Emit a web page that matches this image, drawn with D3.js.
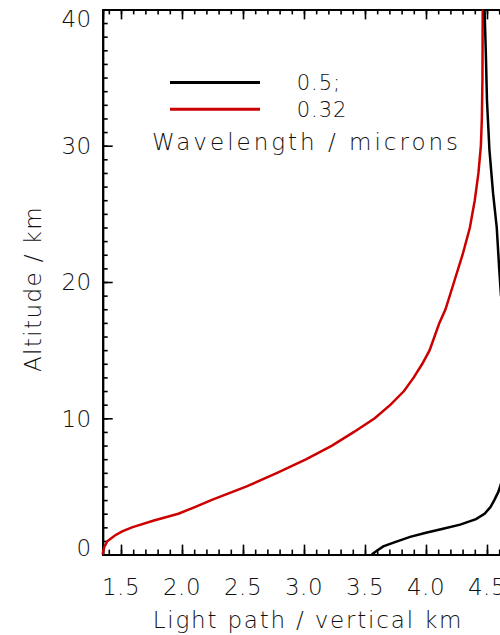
<!DOCTYPE html>
<html>
<head>
<meta charset="utf-8">
<script src="https://cdn.jsdelivr.net/npm/d3@7"></script>
<style>
  html, body { margin: 0; padding: 0; background: #fff; }
  svg { display: block; }
  text { font-family: "DejaVu Sans", sans-serif; font-weight: 200; fill: #111; }
</style>
</head>
<body>
<script>
// altitude (km) vs light path / vertical km
const altRed = [0, 0.3, 0.6, 1.0, 1.4, 1.7, 2.0, 2.5, 3.0, 3.5, 4.0, 5.0, 6.0, 7.0, 8.0, 9.0, 10.0,
    11.0, 12.0, 13.0, 14.0, 15.0, 16.0, 17.0, 18.0, 20.0, 22.0, 24.0, 26.0, 28.0, 30.0, 32.0, 35.0, 40.0];
const pathRed = [1.35, 1.355, 1.365, 1.39, 1.45, 1.51, 1.59, 1.77, 1.97, 2.11, 2.24, 2.53, 2.78, 3.02, 3.23, 3.41, 3.58,
    3.71, 3.82, 3.90, 3.97, 4.03, 4.07, 4.11, 4.16, 4.23, 4.30, 4.36, 4.40, 4.43, 4.45, 4.458, 4.463, 4.465];

const altBlack = [0, 0.3, 0.6, 0.9, 1.3, 1.6, 1.9, 2.2, 2.6, 3.0, 3.5, 4.0, 4.6, 5.2, 6.0, 8.0, 10.0,
    12.0, 15.0, 18.0, 19.0, 21.0, 24.0, 26.5, 29.7, 33.3, 37.0, 40.0];
const pathBlack = [3.555, 3.60, 3.65, 3.74, 3.87, 4.00, 4.14, 4.28, 4.41, 4.48, 4.53, 4.56, 4.593, 4.615, 4.66, 4.74, 4.76,
    4.75, 4.71, 4.66, 4.615, 4.60, 4.58, 4.55, 4.52, 4.50, 4.49, 4.48];

const legendLabels = ["0.5;", "0.32"];
const legendColors = ["#000", "#cc0000"];
const legendTitle = "Wavelength / microns";

const xTicks = [1.5, 2.0, 2.5, 3.0, 3.5, 4.0, 4.5];
const yTicks = [0, 10, 20, 30, 40];

function main() {
    const width = 500;
    const height = 635;
    const margin = { left: 102.7, top: 9.4, bottom: 554.6, right: 512.6 };

    const x = d3.scaleLinear().domain([1.35, 4.71]).range([margin.left, margin.right]);
    const y = d3.scaleLinear().domain([0, 40]).range([margin.bottom, margin.top]);

    const svg = d3.select("body").append("svg")
        .attr("width", width)
        .attr("height", height);

    const minorX = d3.range(14, 48).map(d => d / 10);
    const minorY = d3.range(0, 41);

    // frame + ticks, pointing inward on all sides
    svg.append("g").attr("transform", `translate(0,${margin.bottom})`)
        .call(d3.axisTop(x).tickValues(minorX).tickSize(5).tickFormat(""));
    svg.append("g").attr("transform", `translate(0,${margin.bottom})`)
        .call(d3.axisTop(x).tickValues(xTicks).tickSize(10).tickFormat(""));
    svg.append("g").attr("transform", `translate(0,${margin.top})`)
        .call(d3.axisBottom(x).tickValues(minorX).tickSize(5).tickFormat(""));
    svg.append("g").attr("transform", `translate(0,${margin.top})`)
        .call(d3.axisBottom(x).tickValues(xTicks).tickSize(10).tickFormat(""));
    svg.append("g").attr("transform", `translate(${margin.left},0)`)
        .call(d3.axisRight(y).tickValues(minorY).tickSize(5).tickFormat(""));
    svg.append("g").attr("transform", `translate(${margin.left},0)`)
        .call(d3.axisRight(y).tickValues(yTicks).tickSize(10).tickFormat(""));
    svg.append("g").attr("transform", `translate(${margin.right},0)`)
        .call(d3.axisLeft(y).tickValues(minorY).tickSize(5).tickFormat(""));

    svg.selectAll(".domain").attr("stroke", "#000").attr("stroke-width", 2);
    svg.selectAll(".tick line").attr("stroke", "#000").attr("stroke-width", 1.6);

    // tick labels
    svg.append("g").selectAll("text")
        .data(xTicks)
        .join("text")
        .attr("x", d => x(d))
        .attr("y", margin.bottom + 40)
        .attr("text-anchor", "middle")
        .style("font-size", "23px")
        .style("letter-spacing", "0.5px")
        .text(d => d.toFixed(1));

    svg.append("g").selectAll("text")
        .data(yTicks)
        .join("text")
        .attr("x", margin.left - 11)
        .attr("y", d => Math.min(Math.max(y(d), margin.top + 9), margin.bottom - 7))
        .attr("dy", "0.36em")
        .attr("text-anchor", "end")
        .style("font-size", "23px")
        .style("letter-spacing", "0.5px")
        .text(d => d);

    // axis titles
    svg.append("text")
        .attr("x", 308)
        .attr("y", 628)
        .attr("text-anchor", "middle")
        .style("font-size", "23px")
        .style("letter-spacing", "1.8px")
        .text("Light path / vertical km");

    svg.append("text")
        .attr("transform", `translate(41,${(margin.top + margin.bottom) / 2 + 7}) rotate(-90)`)
        .attr("text-anchor", "middle")
        .style("font-size", "23px")
        .style("letter-spacing", "1.4px")
        .text("Altitude / km");

    // curves
    const line = d3.line()
        .x(d => x(d[0]))
        .y(d => y(d[1]));

    svg.append("path")
        .datum(d3.zip(pathRed, altRed))
        .attr("fill", "none")
        .attr("stroke", legendColors[1])
        .attr("stroke-width", 2.5)
        .attr("d", line);

    svg.append("path")
        .datum(d3.zip(pathBlack, altBlack))
        .attr("fill", "none")
        .attr("stroke", legendColors[0])
        .attr("stroke-width", 2.5)
        .attr("d", line);

    // legend
    const legend = svg.append("g");
    legendLabels.forEach((label, i) => {
        const ly = 82.5 + i * 26.8;
        legend.append("line")
            .attr("x1", 170).attr("x2", 260)
            .attr("y1", ly).attr("y2", ly)
            .attr("stroke", legendColors[i])
            .attr("stroke-width", 3);
        legend.append("text")
            .attr("x", 296.7)
            .attr("y", ly + 7.5)
            .style("font-size", "21px")
            .style("letter-spacing", "1px")
            .text(label);
    });
    legend.append("text")
        .attr("x", 152)
        .attr("y", 150)
        .style("font-size", "23px")
        .style("letter-spacing", "3px")
        .text(legendTitle);
}

addEventListener('DOMContentLoaded', main)
</script>
</body>
</html>
